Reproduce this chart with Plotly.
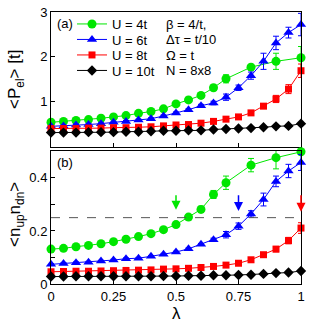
import plotly.graph_objects as go

lam_all = [round(0.05 * i, 2) for i in range(21)]
lam_green = [round(0.05 * i, 2) for i in range(15)] + [0.8, 0.9, 1.0]

# Top panel: <P_el> [t]
p_u4 = [0.54, 0.56, 0.58, 0.60, 0.63, 0.66, 0.69, 0.74, 0.78, 0.84, 0.95, 1.04, 1.14, 1.31, 1.51, 1.77, 1.90, 1.98]
p_u4_err = [0.02] * 11 + [0.03, 0.05, 0.06, 0.09, 0.06, 0.18, 0.25]
p_u6 = [0.45, 0.46, 0.48, 0.49, 0.51, 0.54, 0.56, 0.59, 0.62, 0.68, 0.75, 0.82, 0.91, 0.97, 1.10, 1.31, 1.58, 1.90, 2.31, 2.54, 2.72]
p_u6_err = [0.02] * 12 + [0.03, 0.04, 0.07, 0.06, 0.08, 0.18, 0.15, 0.12, 0.25]
p_u8 = [0.40, 0.40, 0.40, 0.41, 0.41, 0.42, 0.42, 0.43, 0.44, 0.46, 0.48, 0.49, 0.52, 0.56, 0.61, 0.66, 0.75, 0.90, 1.06, 1.28, 1.69]
p_u8_err = [0.02] * 15 + [0.03, 0.04, 0.05, 0.08, 0.10, 0.15]
p_u10 = [0.31, 0.31, 0.31, 0.32, 0.32, 0.32, 0.33, 0.33, 0.34, 0.35, 0.35, 0.36, 0.36, 0.38, 0.39, 0.40, 0.41, 0.43, 0.45, 0.46, 0.51]
p_u10_err = [0.02] * 21

# Bottom panel: <n_up n_dn>
n_u4 = [0.132, 0.135, 0.141, 0.146, 0.152, 0.160, 0.169, 0.179, 0.190, 0.205, 0.224, 0.252, 0.281, 0.337, 0.381, 0.447, 0.475, 0.497]
n_u4_err = [0.003] * 11 + [0.008, 0.012, 0.015, 0.025, 0.025, 0.042, 0.008]
n_u6 = [0.075, 0.078, 0.081, 0.083, 0.087, 0.091, 0.096, 0.098, 0.105, 0.113, 0.121, 0.133, 0.150, 0.167, 0.186, 0.218, 0.264, 0.318, 0.386, 0.425, 0.457]
n_u6_err = [0.003] * 13 + [0.006, 0.012, 0.012, 0.012, 0.024, 0.02, 0.025, 0.03]
n_u8 = [0.047, 0.048, 0.049, 0.049, 0.050, 0.051, 0.052, 0.053, 0.054, 0.057, 0.058, 0.060, 0.063, 0.067, 0.072, 0.079, 0.092, 0.111, 0.132, 0.164, 0.211]
n_u8_err = [0.003] * 17 + [0.006, 0.01, 0.012, 0.02]
n_u10 = [0.029, 0.029, 0.030, 0.030, 0.030, 0.030, 0.030, 0.030, 0.030, 0.031, 0.031, 0.032, 0.032, 0.034, 0.034, 0.035, 0.036, 0.039, 0.042, 0.044, 0.050]
n_u10_err = [0.003] * 21

names = ["U = 4t", "U = 6t", "U = 8t", "U = 10t"]
colors = ["#00e600", "#0000ff", "#ff0000", "#000000"]
symbols = ["circle", "triangle-up", "square", "diamond"]
sizes = [9, 9, 7, 8]

top = [(lam_green, p_u4, p_u4_err), (lam_all, p_u6, p_u6_err), (lam_all, p_u8, p_u8_err), (lam_all, p_u10, p_u10_err)]
bot = [(lam_green, n_u4, n_u4_err), (lam_all, n_u6, n_u6_err), (lam_all, n_u8, n_u8_err), (lam_all, n_u10, n_u10_err)]
legend_ids = ["legend", "legend2", "legend3", "legend4"]

fig = go.Figure()
for i in range(4):
    x, y, e = top[i]
    fig.add_trace(go.Scatter(x=x, y=y, mode="lines+markers", name=names[i], cliponaxis=False,
                             legend=legend_ids[i],
                             line=dict(color=colors[i], width=1),
                             marker=dict(symbol=symbols[i], size=sizes[i], color=colors[i]),
                             error_y=dict(type="data", array=e, color=colors[i], thickness=1, width=3),
                             xaxis="x", yaxis="y"))
for i in range(4):
    x, y, e = bot[i]
    fig.add_trace(go.Scatter(x=x, y=y, mode="lines+markers", showlegend=False, cliponaxis=False,
                             line=dict(color=colors[i], width=1),
                             marker=dict(symbol=symbols[i], size=sizes[i], color=colors[i]),
                             error_y=dict(type="data", array=e, color=colors[i], thickness=1, width=3),
                             xaxis="x2", yaxis="y2"))

dash_x = [0, 1]
dash_y = [0.25, 0.25]
fig.add_trace(go.Scatter(x=dash_x, y=dash_y, mode="lines", showlegend=False,
                         line=dict(color="#555", width=1, dash="dash"), xaxis="x2", yaxis="y2"))

arrow_x = [0.5, 0.75, 1.0]
arrow_top = [0.34, 0.34, 0.34]
arrow_tip = [0.28, 0.275, 0.272]
arrow_col = ["#00e600", "#0000ff", "#ff0000"]
for ax_, at, ap, c in zip(arrow_x, arrow_top, arrow_tip, arrow_col):
    fig.add_annotation(x=ax_, y=ap, ax=ax_, ay=at, xref="x2", yref="y2", axref="x2", ayref="y2",
                       showarrow=True, arrowhead=2, arrowsize=1.2, arrowwidth=1.5, arrowcolor=c, text="")

font = "Liberation Sans, Arial, sans-serif"
axis_common = dict(showline=True, mirror=True, linecolor="#000", linewidth=1, ticks="inside",
                   ticklen=4, tickcolor="#000", showgrid=False, zeroline=False, automargin=False,
                   tickfont=dict(size=13, color="#000", family=font))

W, H, L, PW = 312, 326, 51, 250
def px(x):
    return (x - L) / PW
def py(y):
    return 1 - y / H

legend_rows = [24, 39.5, 55, 70.5]
legend_cfg = {}
for lid, ry in zip(legend_ids, legend_rows):
    legend_cfg[lid] = dict(x=px(72), y=py(ry), xanchor="left", yanchor="middle", bgcolor="rgba(0,0,0,0)",
                           borderwidth=0, font=dict(size=13, family=font, color="#000"), itemwidth=30)

fig.update_layout(
    width=W, height=H,
    margin=dict(l=51, r=11, t=0, b=0, autoexpand=False),
    paper_bgcolor="white", plot_bgcolor="white",
    showlegend=True,
    xaxis=dict(domain=[0, 1], range=[0, 1], anchor="y", tickvals=[0, 0.25, 0.5, 0.75, 1],
               showticklabels=False, **axis_common),
    yaxis=dict(domain=[0.5506, 0.9632], range=[0, 3], anchor="x", tickvals=[0, 1, 2, 3],
               ticktext=["", "1", "2", "3"], **axis_common),
    xaxis2=dict(domain=[0, 1], range=[0, 1], anchor="y2", tickvals=[0, 0.25, 0.5, 0.75, 1],
                ticktext=["0", "0.25", "0.5", "0.75", "1"], **axis_common),
    yaxis2=dict(domain=[0.1279, 0.5368], range=[0, 0.5], anchor="x2",
                tickvals=[0, 0.1, 0.2, 0.3, 0.4, 0.5], ticktext=["0", "", "0.2", "", "0.4", ""],
                **axis_common),
    **legend_cfg,
)

fig.add_annotation(x=px(16), y=py(80), xref="paper", yref="paper", text="&lt;P<sub>el</sub>&gt; [t]",
                   textangle=-90, showarrow=False, xanchor="center", yanchor="middle",
                   font=dict(size=17, family=font, color="#000"))
fig.add_annotation(x=px(16), y=py(215), xref="paper", yref="paper", text="&lt;n<sub>up</sub>n<sub>dn</sub>&gt;",
                   textangle=-90, showarrow=False, xanchor="center", yanchor="middle",
                   font=dict(size=17, family=font, color="#000"))
fig.add_annotation(x=px(176), y=py(313), xref="paper", yref="paper", text="λ",
                   showarrow=False, xanchor="center", yanchor="middle",
                   font=dict(size=17, family=font, color="#000"))

fig.add_annotation(x=px(55), y=py(23), xref="paper", yref="paper", text="(a)", showarrow=False,
                   xanchor="left", yanchor="middle", font=dict(size=13, family=font, color="#000"))
fig.add_annotation(x=px(55), y=py(162), xref="paper", yref="paper", text="(b)", showarrow=False,
                   xanchor="left", yanchor="middle", font=dict(size=13, family=font, color="#000"))
params = ["β = 4/t,", "Δτ = t/10", "Ω = t", "N = 8x8"]
param_y = [24, 39.5, 55, 70.5]
for txt, yy in zip(params, param_y):
    fig.add_annotation(x=px(164), y=py(yy), xref="paper", yref="paper", text=txt, showarrow=False,
                       xanchor="left", yanchor="middle", font=dict(size=13, family=font, color="#000"))

fig.write_html("out.html", config={"displayModeBar": False},
               post_script="document.body.style.margin='0';document.body.style.padding='0';document.body.style.overflow='hidden';")
